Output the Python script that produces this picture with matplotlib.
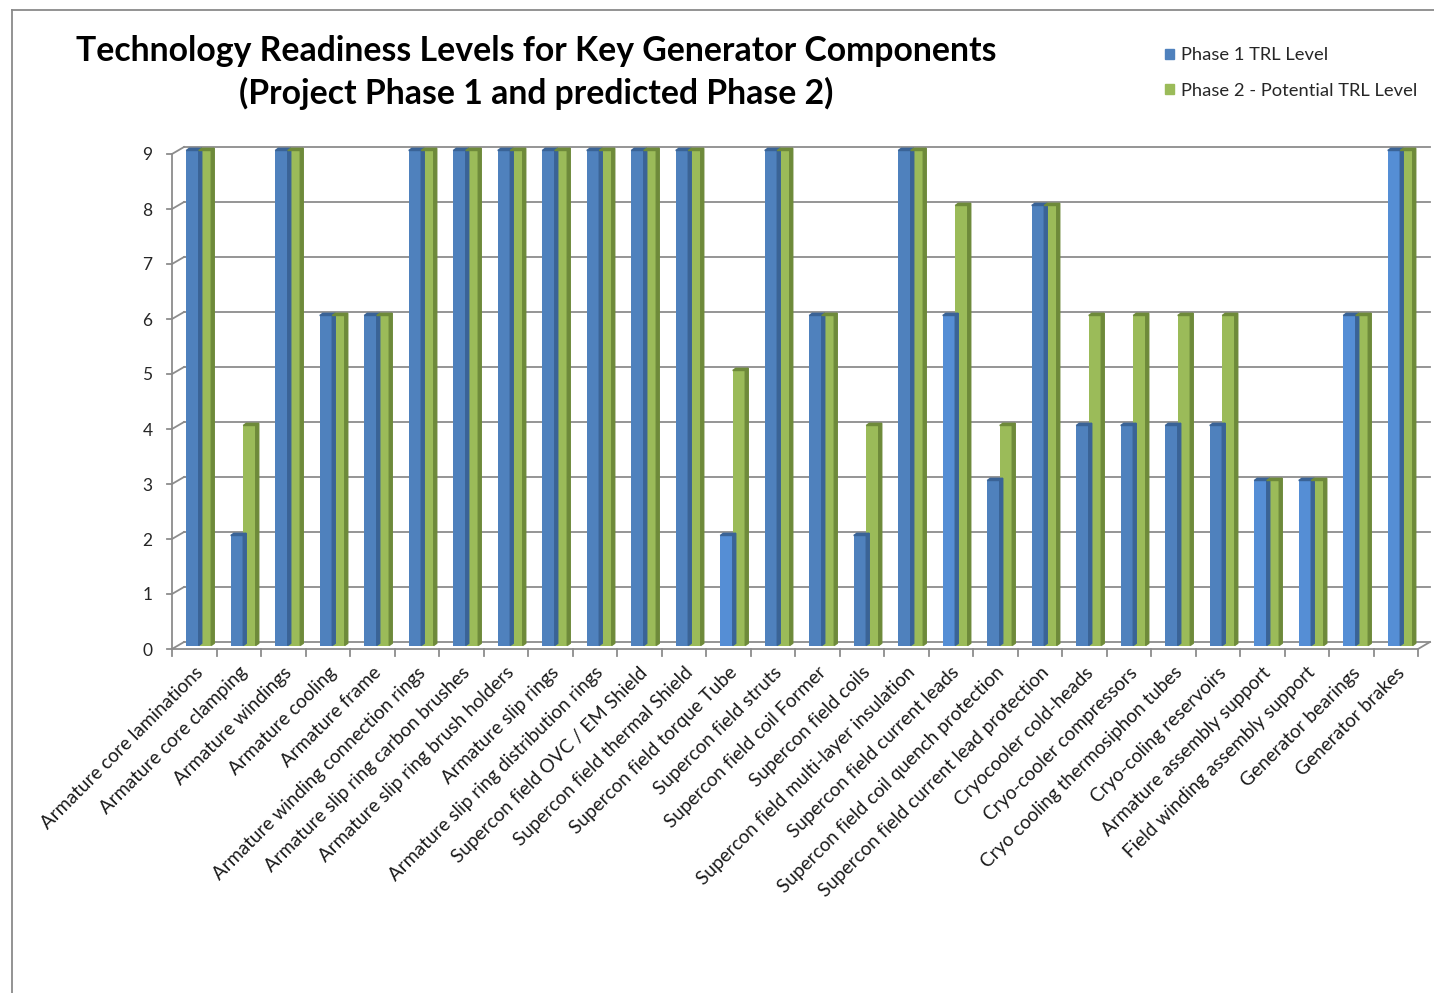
import matplotlib
matplotlib.use('Agg')
import matplotlib.pyplot as plt
from matplotlib.patches import Polygon, Patch
from matplotlib.lines import Line2D
import numpy as np

plt.rcParams['font.family'] = ['Lato', 'DejaVu Sans']

# data
components = [
    'Armature core laminations', 'Armature core clamping', 'Armature windings',
    'Armature cooling', 'Armature frame', 'Armature winding connection rings',
    'Armature slip ring carbon brushes', 'Armature slip ring brush holders',
    'Armature slip rings', 'Armature slip ring distribution rings',
    'Supercon field OVC / EM Shield', 'Supercon field thermal Shield',
    'Supercon field torque Tube', 'Supercon field struts', 'Supercon field coil Former',
    'Supercon field coils', 'Supercon field multi-layer insulation',
    'Supercon field current leads', 'Supercon field coil quench protection',
    'Supercon field current lead protection', 'Cryocooler cold-heads',
    'Cryo-cooler compressors', 'Cryo cooling thermosiphon tubes', 'Cryo-coling reservoirs',
    'Armature assembly support', 'Field winding assembly support', 'Generator bearings',
    'Generator brakes']
phase1 = [9, 2, 9, 6, 6, 9, 9, 9, 9, 9, 9, 9, 2, 9, 6, 2, 9, 6, 3, 8, 4, 4, 4, 4, 3, 3, 6, 9]
phase2 = [9, 4, 9, 6, 6, 9, 9, 9, 9, 9, 9, 9, 5, 9, 6, 4, 9, 8, 4, 8, 6, 6, 6, 6, 3, 3, 6, 9]
# a few Phase 1 points use a lighter blue in the original
light_pts = [12, 17, 24, 25, 26, 27]

BLUE, BLUE_L, GREEN = '#4F81BD', '#558ED5', '#9BBB59'
BLUE_D, GREEN_D = '#3A6396', '#6E8A3A'
GRID = '#8C8C8C'

W, H = 1434, 993
fig = plt.figure(figsize=(W / 100, H / 100), dpi=100)
x0, x1, y0, y9 = 172, 1418, 649, 154
ax = fig.add_axes([x0 / W, 1 - y0 / H, (x1 - x0) / W, (y0 - y9) / H])
n = len(components)
ax.set_xlim(0, n)
ax.set_ylim(0, 9)
for s in ax.spines.values():
    s.set_visible(False)

px_x = n / (x1 - x0)
px_y = 9 / (y0 - y9)
DX, DY = 12 * px_x, 7 * px_y        # back-wall depth
BX, BY = 4.5 * px_x, 3.5 * px_y     # bars sit mid-depth
SX, SY = 3 * px_x, 2.2 * px_y       # bar side thickness

# back wall gridlines + left wall diagonals
for k in range(10):
    ax.plot([DX, n + DX], [k + DY, k + DY], color=GRID, lw=1.3, clip_on=False, zorder=1)
    ax.plot([0, DX], [k, k + DY], color=GRID, lw=1.3, clip_on=False, zorder=1)
ax.plot([0, 0], [0, 9], color=GRID, lw=1.3, clip_on=False, zorder=1)
# floor front edge and right diagonal
ax.plot([0, n], [0, 0], color=GRID, lw=1.3, clip_on=False, zorder=1)
ax.plot([n, n + DX], [0, DY], color=GRID, lw=1.3, clip_on=False, zorder=1)
for i in range(n + 1):
    ax.plot([i, i], [0, -7 * px_y], color=GRID, lw=1.3, clip_on=False, zorder=1)
for k in range(10):
    ax.plot([-5 * px_x, 0], [k, k], color=GRID, lw=1.3, clip_on=False, zorder=1)

xs = np.arange(n) + 0.5 + BX
bw = 12.5 * px_x
c1 = [BLUE_L if i in light_pts else BLUE for i in range(n)]
b1 = ax.bar(xs - bw / 2, phase1, bw, bottom=BY, color=c1, zorder=3, clip_on=False)
b2 = ax.bar(xs + bw / 2, phase2, bw, bottom=BY, color=GREEN, zorder=3, clip_on=False)

# fake 3D side and top faces
for bars, dark in ((b1, BLUE_D), (b2, GREEN_D)):
    for p in bars:
        xl, yb = p.get_x(), p.get_y()
        xr, yt = xl + p.get_width(), yb + p.get_height()
        ax.add_patch(Polygon([(xr, yb), (xr + SX, yb + SY), (xr + SX, yt + SY), (xr, yt)],
                             closed=True, color=dark, zorder=3, clip_on=False))
        ax.add_patch(Polygon([(xl, yt), (xl + SX, yt + SY), (xr + SX, yt + SY), (xr, yt)],
                             closed=True, color=dark, zorder=3, clip_on=False))

ax.set_yticks(range(10))
ax.set_yticklabels([str(k) for k in range(10)], fontsize=12.5, color='#262626')
ax.tick_params(axis='y', length=0, pad=14)
ax.set_xticks(np.arange(n) + 0.5 + 6 * px_x)
ax.set_xticklabels(components, rotation=45, ha='right', va='center',
                   rotation_mode='anchor', fontsize=13.7, color='#1a1a1a')
ax.tick_params(axis='x', length=0, pad=15)

fig.text(536 / W, 1 - 72.5 / H,
         'Technology Readiness Levels for Key Generator Components\n'
         '(Project Phase 1 and predicted Phase 2)',
         ha='center', va='center', fontsize=24.3, fontweight='bold',
         linespacing=1.38, color='black')

handles = [Patch(color=BLUE), Patch(color=GREEN)]
fig.legend(handles, ['Phase 1 TRL Level', 'Phase 2 - Potential TRL Level'],
           loc='upper left', bbox_to_anchor=(1148 / W, 1 - 31 / H), frameon=False,
           fontsize=13.2, handlelength=0.5, handleheight=0.5, handletextpad=0.4,
           labelspacing=1.05, labelcolor='#262626')

# outer frame of the pasted chart
fig.add_artist(Line2D([12 / W, 12 / W], [0, 1 - 10 / H], color='#8a8a8a', lw=1.3))
fig.add_artist(Line2D([12 / W, 1], [1 - 10 / H, 1 - 10 / H], color='#8a8a8a', lw=1.3))

fig.savefig('out.png', dpi=100, facecolor='white')
